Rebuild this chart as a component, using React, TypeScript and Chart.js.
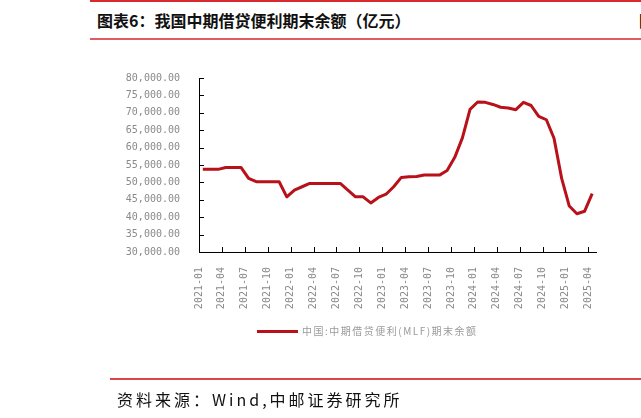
import React, { useEffect, useRef } from "react";
import { Chart, registerables } from "chart.js";

Chart.register(...registerables);

const TITLE = "图表6：我国中期借贷便利期末余额（亿元）";
const SOURCE = "资料来源：Wind,中邮证券研究所";
const SERIES_LABEL = "中国:中期借贷便利(MLF)期末余额";

const CATEGORIES = [
  "2021-01", "2021-02", "2021-03", "2021-04", "2021-05", "2021-06",
  "2021-07", "2021-08", "2021-09", "2021-10", "2021-11", "2021-12",
  "2022-01", "2022-02", "2022-03", "2022-04", "2022-05", "2022-06",
  "2022-07", "2022-08", "2022-09", "2022-10", "2022-11", "2022-12",
  "2023-01", "2023-02", "2023-03", "2023-04", "2023-05", "2023-06",
  "2023-07", "2023-08", "2023-09", "2023-10", "2023-11", "2023-12",
  "2024-01", "2024-02", "2024-03", "2024-04", "2024-05", "2024-06",
  "2024-07", "2024-08", "2024-09", "2024-10", "2024-11", "2024-12",
  "2025-01", "2025-02", "2025-03", "2025-04",
];

const MLF_BALANCE = [
  53750, 53750, 53750, 54300, 54300, 54300,
  51150, 50200, 50200, 50200, 50200, 45860,
  47800, 48750, 49700, 49700, 49700, 49700,
  49700, 47800, 45860, 45860, 44100, 45670,
  46600, 48750, 51440, 51600, 51700, 52100,
  52100, 52100, 53400, 57200, 62800, 71000,
  73100, 73000, 72400, 71600, 71400, 70900,
  73000, 72100, 69000, 68000, 62700, 51150,
  43200, 41000, 41700, 46800,
];

const Y_MIN = 30000;
const Y_MAX = 80000;
const Y_STEP = 5000;
const LABEL_EVERY = 3;

const LINE_COLOR = "#B8111A";
const TICK_FONT = { family: "'DejaVu Sans Mono', 'Liberation Mono', monospace", size: 10 };

const innerTicks = {
  id: "innerTicks",
  beforeDatasetsDraw(chart: any) {
    const { ctx, chartArea, scales } = chart;
    const x = scales.x;
    const y = scales.y;
    ctx.save();
    ctx.strokeStyle = "#000";
    ctx.lineWidth = 1;
    ctx.beginPath();
    y.ticks.forEach((t: any) => {
      const py = Math.round(y.getPixelForValue(t.value)) + 0.5;
      ctx.moveTo(chartArea.left, py);
      ctx.lineTo(chartArea.left + 5, py);
    });
    x.ticks.forEach((t: any) => {
      const px = Math.round(x.getPixelForValue(t.value)) + 0.5;
      ctx.moveTo(px, chartArea.bottom);
      ctx.lineTo(px, chartArea.bottom - 5);
    });
    ctx.stroke();
    ctx.restore();
  },
};

function MlfChart() {
  const ref = useRef<HTMLCanvasElement | null>(null);
  useEffect(() => {
    if (!ref.current) return;
    const chart = new Chart(ref.current, {
      type: "line",
      data: {
        datasets: [
          {
            label: SERIES_LABEL,
            data: MLF_BALANCE.map((v, i) => ({ x: i + 0.5, y: v })),
            borderColor: LINE_COLOR,
            backgroundColor: LINE_COLOR,
            borderWidth: 3,
            pointRadius: 0,
            tension: 0,
            borderJoinStyle: "round",
          },
        ],
      },
      options: {
        animation: false,
        responsive: false,
        layout: { padding: { left: 0, right: 45, top: 78, bottom: 100 } },
        plugins: { legend: { display: false }, tooltip: { enabled: false } },
        scales: {
          x: {
            type: "linear",
            min: 0,
            max: CATEGORIES.length,
            afterBuildTicks: (s: any) => {
              s.ticks = CATEGORIES.map((_, i) => ({ value: i })).filter(
                (t) => t.value % LABEL_EVERY === 0
              );
            },
            afterFit: (s: any) => {
              s.height = 66;
            },
            ticks: {
              autoSkip: false,
              minRotation: 90,
              maxRotation: 90,
              padding: 7,
              color: "#8a8a8a",
              font: TICK_FONT,
              callback: (v: any) => CATEGORIES[v as number] ?? "",
            },
            grid: { display: false },
            border: { display: true, color: "#000", width: 1 },
          },
          y: {
            min: Y_MIN,
            max: Y_MAX,
            afterFit: (s: any) => {
              s.width = 199;
            },
            ticks: {
              stepSize: Y_STEP,
              padding: 11,
              color: "#8a8a8a",
              font: TICK_FONT,
              callback: (v: any) =>
                Number(v).toLocaleString("en-US", {
                  minimumFractionDigits: 2,
                  maximumFractionDigits: 2,
                }),
            },
            grid: { display: false },
            border: { display: true, color: "#000", width: 1 },
          },
        },
      },
      plugins: [innerTicks],
    } as any);
    return () => chart.destroy();
  }, []);
  return (
    <canvas
      ref={ref}
      width={641}
      height={418}
      style={{ position: "absolute", left: 0, top: 0, width: 641, height: 418 }}
    />
  );
}

export default function App() {
  const cjk = "'Noto Sans CJK SC', 'Noto Sans', sans-serif";
  return (
    <div
      style={{
        position: "fixed",
        left: 0,
        top: 0,
        width: 641,
        height: 418,
        overflow: "hidden",
        background: "#fff",
      }}
    >
      <div style={{ position: "absolute", left: 90, right: 0, top: 0, height: 2, background: "#d62a2f" }} />
      <div
        style={{
          position: "absolute",
          left: 97,
          top: 12,
          fontFamily: cjk,
          fontWeight: 700,
          fontSize: 16,
          lineHeight: "16px",
          color: "#111",
          whiteSpace: "nowrap",
        }}
      >
        {TITLE}
      </div>
      <div
        style={{
          position: "absolute",
          left: 639,
          top: 12,
          fontFamily: cjk,
          fontWeight: 700,
          fontSize: 16,
          lineHeight: "16px",
          color: "#111",
          whiteSpace: "nowrap",
        }}
      >
        图
      </div>
      <div style={{ position: "absolute", left: 90, right: 0, top: 38, height: 2, background: "#e05a5e" }} />
      <MlfChart />
      <div
        style={{
          position: "absolute",
          left: 257,
          top: 329.5,
          width: 41,
          height: 3,
          background: LINE_COLOR,
        }}
      />
      <div
        style={{
          position: "absolute",
          left: 302,
          top: 325,
          fontFamily: cjk,
          fontSize: 10,
          lineHeight: "12px",
          letterSpacing: 1.5,
          color: "#9a9a9a",
          whiteSpace: "nowrap",
        }}
      >
        {SERIES_LABEL}
      </div>
      <div style={{ position: "absolute", left: 110, right: 0, top: 378, height: 2, background: "#de4448" }} />
      <div
        style={{
          position: "absolute",
          left: 117,
          top: 390,
          fontFamily: cjk,
          fontSize: 16,
          lineHeight: "18px",
          letterSpacing: 3,
          color: "#111",
          whiteSpace: "nowrap",
        }}
      >
        {SOURCE}
      </div>
    </div>
  );
}
